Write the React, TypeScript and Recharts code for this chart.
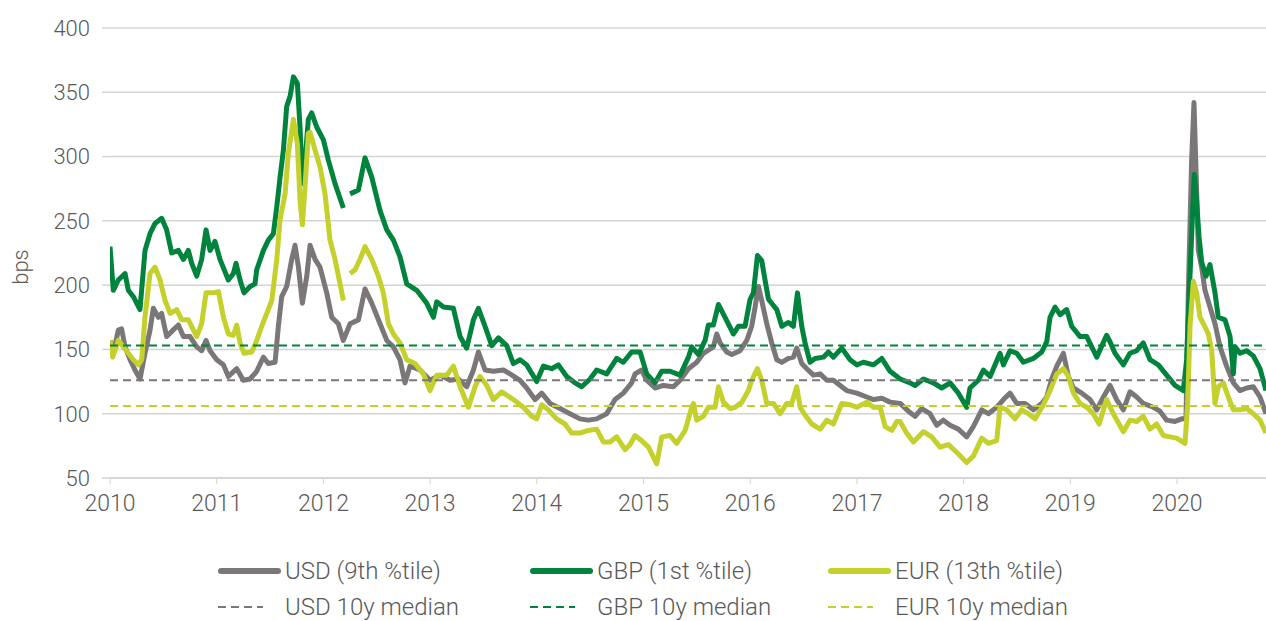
import { LineChart, Line, XAxis, YAxis, CartesianGrid, ReferenceLine } from "recharts";

const years = [2010, 2011, 2012, 2013, 2014, 2015, 2016, 2017, 2018, 2019, 2020];
const yTicks = [50, 100, 150, 200, 250, 300, 350, 400];

// 10y medians
const usdMedian = 126;
const gbpMedian = 153;
const eurMedian = 106;

const usdT = [
  2010.0, 2010.031, 2010.078, 2010.109, 2010.141, 2010.188, 2010.234, 2010.281, 2010.328, 2010.375,
  2010.406, 2010.453, 2010.484, 2010.531, 2010.578, 2010.641, 2010.688, 2010.75, 2010.813, 2010.859,
  2010.9, 2010.938, 2011.0, 2011.063, 2011.109, 2011.188, 2011.25, 2011.313, 2011.375, 2011.438,
  2011.484, 2011.547, 2011.578, 2011.609, 2011.656, 2011.703, 2011.734, 2011.766, 2011.803, 2011.844,
  2011.875, 2011.922, 2011.968, 2012.031, 2012.078, 2012.14, 2012.187, 2012.25, 2012.328, 2012.39,
  2012.453, 2012.531, 2012.594, 2012.656, 2012.718, 2012.765, 2012.812, 2012.906, 2012.999, 2013.093,
  2013.187, 2013.265, 2013.343, 2013.406, 2013.453, 2013.515, 2013.593, 2013.687, 2013.749, 2013.843,
  2013.905, 2013.983, 2014.046, 2014.124, 2014.218, 2014.311, 2014.405, 2014.483, 2014.561, 2014.655,
  2014.733, 2014.811, 2014.889, 2014.921, 2014.983, 2015.03, 2015.108, 2015.186, 2015.28, 2015.343,
  2015.421, 2015.499, 2015.561, 2015.655, 2015.686, 2015.718, 2015.78, 2015.827, 2015.905, 2015.968,
  2016.014, 2016.046, 2016.077, 2016.108, 2016.155, 2016.202, 2016.249, 2016.296, 2016.358, 2016.405,
  2016.436, 2016.483, 2016.53, 2016.593, 2016.655, 2016.718, 2016.78, 2016.843, 2016.905, 2016.999,
  2017.093, 2017.155, 2017.233, 2017.311, 2017.405, 2017.482, 2017.545, 2017.607, 2017.685, 2017.748,
  2017.81, 2017.873, 2017.951, 2018.029, 2018.091, 2018.17, 2018.232, 2018.31, 2018.373, 2018.435,
  2018.498, 2018.576, 2018.654, 2018.732, 2018.779, 2018.826, 2018.873, 2018.935, 2018.982, 2019.029,
  2019.107, 2019.185, 2019.248, 2019.31, 2019.372, 2019.434, 2019.497, 2019.559, 2019.622, 2019.684,
  2019.778, 2019.84, 2019.903, 2019.981, 2020.044, 2020.084, 2020.106, 2020.137, 2020.159, 2020.178,
  2020.2, 2020.231, 2020.262, 2020.309, 2020.356, 2020.403, 2020.465, 2020.528, 2020.59, 2020.653,
  2020.715, 2020.778, 2020.834,
];
const usdBps = [
  157, 147, 165, 166, 152, 142, 134, 127, 147, 165,
  182, 175, 178, 160, 164, 169, 160, 160, 152, 149,
  157, 149, 142, 138, 129, 135, 126, 127, 133, 144,
  139, 140, 168, 191, 199, 220, 231, 214, 186, 207,
  231, 220, 214, 194, 175, 170, 157, 170, 173, 197,
  186, 170, 157, 152, 142, 124, 137, 134, 126, 130,
  126, 127, 121, 134, 148, 134, 133, 134, 131, 126,
  120, 111, 116, 108, 104, 100, 96, 95, 96, 100,
  111, 116, 124, 131, 134, 126, 120, 122, 121, 126,
  135, 140, 147, 152, 162, 155, 148, 146, 149, 157,
  168, 183, 199, 188, 170, 155, 142, 140, 143, 144,
  151, 139, 135, 130, 131, 126, 126, 122, 118, 116,
  113, 111, 112, 109, 108, 102, 98, 104, 100, 91,
  95, 91, 88, 82, 90, 103, 100, 105, 111, 116,
  108, 108, 103, 108, 113, 127, 137, 147, 129, 120,
  116, 111, 103, 113, 122, 111, 103, 117, 113, 108,
  105, 102, 95, 94, 96, 96, 194, 297, 342, 290,
  227, 214, 196, 183, 170, 152, 137, 124, 118, 120,
  121, 113, 100,
];

const gbpT = [
  2010.0, 2010.031, 2010.078, 2010.141, 2010.172, 2010.219, 2010.281, 2010.328, 2010.375, 2010.422,
  2010.484, 2010.531, 2010.578, 2010.641, 2010.688, 2010.734, 2010.766, 2010.813, 2010.859, 2010.9,
  2010.938, 2010.984, 2011.031, 2011.109, 2011.156, 2011.181, 2011.219, 2011.256, 2011.313, 2011.359,
  2011.375, 2011.438, 2011.484, 2011.531, 2011.563, 2011.594, 2011.625, 2011.656, 2011.688, 2011.719,
  2011.756, 2011.781, 2011.803, 2011.828, 2011.859, 2011.89, 2011.937, 2012.0, 2012.047, 2012.109,
  2012.187, 2012.22, 2012.25, 2012.328, 2012.39, 2012.453, 2012.531, 2012.594, 2012.656, 2012.718,
  2012.781, 2012.875, 2012.968, 2013.031, 2013.062, 2013.125, 2013.218, 2013.281, 2013.343, 2013.406,
  2013.453, 2013.515, 2013.578, 2013.64, 2013.718, 2013.78, 2013.843, 2013.905, 2013.999, 2014.061,
  2014.139, 2014.202, 2014.28, 2014.358, 2014.421, 2014.499, 2014.561, 2014.655, 2014.749, 2014.811,
  2014.889, 2014.968, 2015.03, 2015.108, 2015.171, 2015.249, 2015.343, 2015.421, 2015.452, 2015.515,
  2015.577, 2015.608, 2015.655, 2015.702, 2015.764, 2015.843, 2015.889, 2015.952, 2015.999, 2016.03,
  2016.068, 2016.108, 2016.139, 2016.171, 2016.249, 2016.296, 2016.358, 2016.405, 2016.443, 2016.483,
  2016.514, 2016.561, 2016.608, 2016.686, 2016.733, 2016.78, 2016.858, 2016.936, 2016.999, 2017.061,
  2017.155, 2017.233, 2017.311, 2017.405, 2017.499, 2017.545, 2017.623, 2017.717, 2017.795, 2017.873,
  2017.951, 2018.029, 2018.06, 2018.138, 2018.185, 2018.248, 2018.341, 2018.373, 2018.435, 2018.498,
  2018.56, 2018.654, 2018.732, 2018.779, 2018.81, 2018.857, 2018.904, 2018.966, 2019.013, 2019.091,
  2019.154, 2019.201, 2019.248, 2019.34, 2019.372, 2019.419, 2019.497, 2019.559, 2019.622, 2019.684,
  2019.747, 2019.825, 2019.903, 2019.981, 2020.059, 2020.09, 2020.115, 2020.147, 2020.162, 2020.184,
  2020.206, 2020.231, 2020.272, 2020.309, 2020.356, 2020.387, 2020.45, 2020.497, 2020.528, 2020.544,
  2020.59, 2020.653, 2020.715, 2020.778, 2020.834,
];
const gbpBps = [
  230, 196, 204, 209, 196, 191, 181, 227, 240, 248,
  252, 243, 225, 227, 220, 227, 217, 207, 220, 243,
  227, 234, 220, 204, 209, 217, 204, 194, 199, 201,
  212, 227, 235, 240, 261, 284, 305, 339, 347, 362,
  357, 323, 279, 297, 329, 334, 323, 313, 297, 279,
  260, null, 271, 274, 299, 284, 258, 243, 235, 222,
  201, 196, 186, 175, 187, 183, 182, 160, 151, 173,
  182, 168, 153, 159, 153, 139, 142, 138, 125, 137,
  135, 138, 129, 124, 121, 127, 134, 131, 143, 140,
  148, 148, 131, 124, 133, 133, 130, 144, 152, 146,
  157, 169, 169, 185, 175, 162, 168, 168, 189, 194,
  223, 219, 204, 189, 181, 168, 171, 168, 194, 168,
  155, 140, 143, 144, 148, 144, 151, 142, 138, 140,
  138, 143, 133, 127, 124, 122, 127, 124, 120, 124,
  116, 105, 120, 126, 134, 129, 147, 138, 149, 147,
  140, 143, 148, 156, 175, 183, 177, 181, 168, 160,
  160, 152, 144, 161, 156, 147, 138, 147, 149, 155,
  142, 138, 130, 122, 118, 142, 194, 258, 286, 265,
  238, 218, 207, 216, 194, 175, 173, 160, 131, 152,
  147, 149, 145, 135, 118,
];

const eurT = [
  2010.0, 2010.025, 2010.078, 2010.125, 2010.172, 2010.219, 2010.266, 2010.297, 2010.328, 2010.375,
  2010.422, 2010.469, 2010.516, 2010.563, 2010.625, 2010.672, 2010.734, 2010.813, 2010.859, 2010.9,
  2010.969, 2011.016, 2011.063, 2011.109, 2011.156, 2011.188, 2011.219, 2011.256, 2011.328, 2011.375,
  2011.422, 2011.469, 2011.516, 2011.563, 2011.594, 2011.641, 2011.672, 2011.719, 2011.756, 2011.781,
  2011.803, 2011.828, 2011.859, 2011.875, 2011.922, 2011.968, 2012.015, 2012.062, 2012.109, 2012.156,
  2012.187, 2012.22, 2012.25, 2012.297, 2012.343, 2012.39, 2012.453, 2012.515, 2012.562, 2012.609,
  2012.656, 2012.718, 2012.781, 2012.859, 2012.937, 2012.999, 2013.062, 2013.156, 2013.218, 2013.281,
  2013.359, 2013.421, 2013.468, 2013.531, 2013.593, 2013.671, 2013.78, 2013.874, 2013.952, 2013.999,
  2014.046, 2014.108, 2014.186, 2014.264, 2014.327, 2014.405, 2014.483, 2014.561, 2014.624, 2014.686,
  2014.749, 2014.827, 2014.874, 2014.921, 2014.983, 2015.046, 2015.124, 2015.171, 2015.249, 2015.311,
  2015.39, 2015.452, 2015.468, 2015.499, 2015.561, 2015.608, 2015.671, 2015.702, 2015.749, 2015.811,
  2015.858, 2015.921, 2015.983, 2016.014, 2016.068, 2016.108, 2016.155, 2016.218, 2016.28, 2016.343,
  2016.389, 2016.436, 2016.468, 2016.514, 2016.577, 2016.655, 2016.718, 2016.78, 2016.858, 2016.936,
  2016.999, 2017.093, 2017.155, 2017.218, 2017.265, 2017.327, 2017.374, 2017.404, 2017.466, 2017.529,
  2017.623, 2017.701, 2017.779, 2017.857, 2017.935, 2018.029, 2018.091, 2018.17, 2018.232, 2018.31,
  2018.341, 2018.404, 2018.482, 2018.545, 2018.607, 2018.67, 2018.748, 2018.81, 2018.873, 2018.935,
  2018.982, 2019.029, 2019.091, 2019.154, 2019.216, 2019.27, 2019.31, 2019.34, 2019.403, 2019.497,
  2019.559, 2019.622, 2019.684, 2019.747, 2019.809, 2019.872, 2019.934, 2019.997, 2020.075, 2020.1,
  2020.122, 2020.153, 2020.184, 2020.215, 2020.247, 2020.294, 2020.325, 2020.356, 2020.387, 2020.434,
  2020.481, 2020.528, 2020.59, 2020.653, 2020.715, 2020.778, 2020.834,
];
const eurBps = [
  157, 144, 157, 152, 147, 142, 138, 142, 175, 209,
  214, 204, 188, 178, 181, 173, 173, 160, 170, 194,
  194, 195, 175, 162, 161, 169, 155, 147, 148, 157,
  168, 178, 188, 220, 251, 271, 303, 329, 310, 266,
  247, 277, 318, 319, 305, 292, 271, 235, 220, 201,
  188, null, 209, 212, 220, 230, 220, 207, 194, 170,
  162, 155, 142, 139, 131, 118, 130, 130, 137, 121,
  105, 121, 129, 122, 111, 117, 111, 105, 98, 96,
  107, 103, 96, 92, 85, 85, 87, 88, 78, 78,
  82, 72, 76, 83, 79, 74, 61, 82, 83, 77,
  87, 105, 108, 95, 98, 105, 105, 121, 109, 104,
  105, 109, 118, 126, 135, 126, 108, 108, 100, 108,
  108, 121, 105, 99, 92, 88, 95, 92, 108, 107,
  105, 109, 105, 105, 90, 87, 94, 94, 85, 78,
  86, 82, 74, 76, 70, 62, 67, 81, 77, 79,
  105, 103, 96, 103, 100, 96, 107, 118, 131, 135,
  129, 116, 108, 105, 100, 92, 103, 111, 100, 86,
  95, 94, 98, 88, 92, 83, 82, 81, 77, 108,
  168, 203, 194, 175, 170, 162, 149, 108, 121, 124,
  113, 103, 103, 104, 100, 95, 85,
];

const usdData = usdT.map((t, i) => ({ t, v: usdBps[i] }));
const gbpData = gbpT.map((t, i) => ({ t, v: gbpBps[i] }));
const eurData = eurT.map((t, i) => ({ t, v: eurBps[i] }));

const GREY = "#7b7677";
const GREEN = "#00843d";
const LIME = "#c4d02b";
const GRID = "#d4d4d4";
const TEXT = "#595959";
const FONT = "Roboto, 'Open Sans', sans-serif";

const yTickStyle = { fontSize: 22, fill: TEXT, fontFamily: FONT, fontWeight: 300 };
const xTickStyle = { fontSize: 23, fill: TEXT, fontFamily: FONT, fontWeight: 300 };

function BpsLabel(props: any) {
  const vb = props.viewBox || { x: 0, y: 0, width: 0, height: 0 };
  const x = vb.x + 20;
  const y = vb.y + vb.height / 2 + 14;
  return (
    <text
      x={x}
      y={y}
      transform={`rotate(-90, ${x}, ${y})`}
      textAnchor="middle"
      dominantBaseline="central"
      style={yTickStyle}
    >
      bps
    </text>
  );
}

const legendRows = [
  [
    { label: "USD (9th %tile)", color: GREY, dashed: false },
    { label: "GBP (1st %tile)", color: GREEN, dashed: false },
    { label: "EUR (13th %tile)", color: LIME, dashed: false },
  ],
  [
    { label: "USD 10y median", color: GREY, dashed: true },
    { label: "GBP 10y median", color: GREEN, dashed: true },
    { label: "EUR 10y median", color: LIME, dashed: true },
  ],
];
const legendCols = [218, 530, 828];

function ChartLegend() {
  return (
    <div style={{ position: "absolute", left: 0, top: 554, width: 1266 }}>
      {legendRows.map((row, r) => (
        <div key={r} style={{ position: "relative", height: 36 }}>
          {row.map((item, c) => (
            <div
              key={c}
              style={{
                position: "absolute",
                left: legendCols[c],
                top: 0,
                height: 34,
                display: "flex",
                alignItems: "center",
                fontFamily: FONT,
                fontWeight: 300,
                fontSize: 24,
                color: TEXT,
                whiteSpace: "nowrap",
              }}
            >
              <svg width={67} height={10}>
                {item.dashed ? (
                  <line x1={0} y1={5} x2={45} y2={5} stroke={item.color} strokeWidth={2} strokeDasharray="8 5" />
                ) : (
                  <line x1={3} y1={5} x2={60} y2={5} stroke={item.color} strokeWidth={6} strokeLinecap="round" />
                )}
              </svg>
              <span>{item.label}</span>
            </div>
          ))}
        </div>
      ))}
    </div>
  );
}

export default function App() {
  return (
    <div style={{ position: "absolute", left: 0, top: 0, width: 1266, height: 621, background: "#fff" }}>
      <LineChart width={1266} height={540} margin={{ top: 28, right: 0, left: 0, bottom: 0 }}>
        <CartesianGrid vertical={false} stroke={GRID} strokeWidth={1.5} />
        <XAxis
          type="number"
          dataKey="t"
          domain={[2010, 2020.834]}
          ticks={years}
          allowDataOverflow
          height={62}
          tick={xTickStyle}
          tickSize={6}
          tickMargin={11}
          axisLine={{ stroke: GRID, strokeWidth: 1.5 }}
          tickLine={{ stroke: GRID }}
          interval={0}
        />
        <YAxis
          type="number"
          domain={[50, 400]}
          ticks={yTicks}
          width={110}
          tick={yTickStyle}
          tickSize={8}
          tickMargin={12}
          axisLine={false}
          tickLine={{ stroke: GRID, strokeWidth: 1.5 }}
          label={<BpsLabel />}
        />
        <Line data={usdData} dataKey="v" stroke={GREY} strokeWidth={5} dot={false} isAnimationActive={false} strokeLinejoin="round" />
        <Line data={gbpData} dataKey="v" stroke={GREEN} strokeWidth={5} dot={false} isAnimationActive={false} strokeLinejoin="round" />
        <Line data={eurData} dataKey="v" stroke={LIME} strokeWidth={5} dot={false} isAnimationActive={false} strokeLinejoin="round" />
        <ReferenceLine y={usdMedian} stroke={GREY} strokeWidth={2} strokeDasharray="8 5" />
        <ReferenceLine y={gbpMedian} stroke={GREEN} strokeWidth={2} strokeDasharray="8 5" />
        <ReferenceLine y={eurMedian} stroke={LIME} strokeWidth={2} strokeDasharray="8 5" />
      </LineChart>
      <ChartLegend />
    </div>
  );
}
